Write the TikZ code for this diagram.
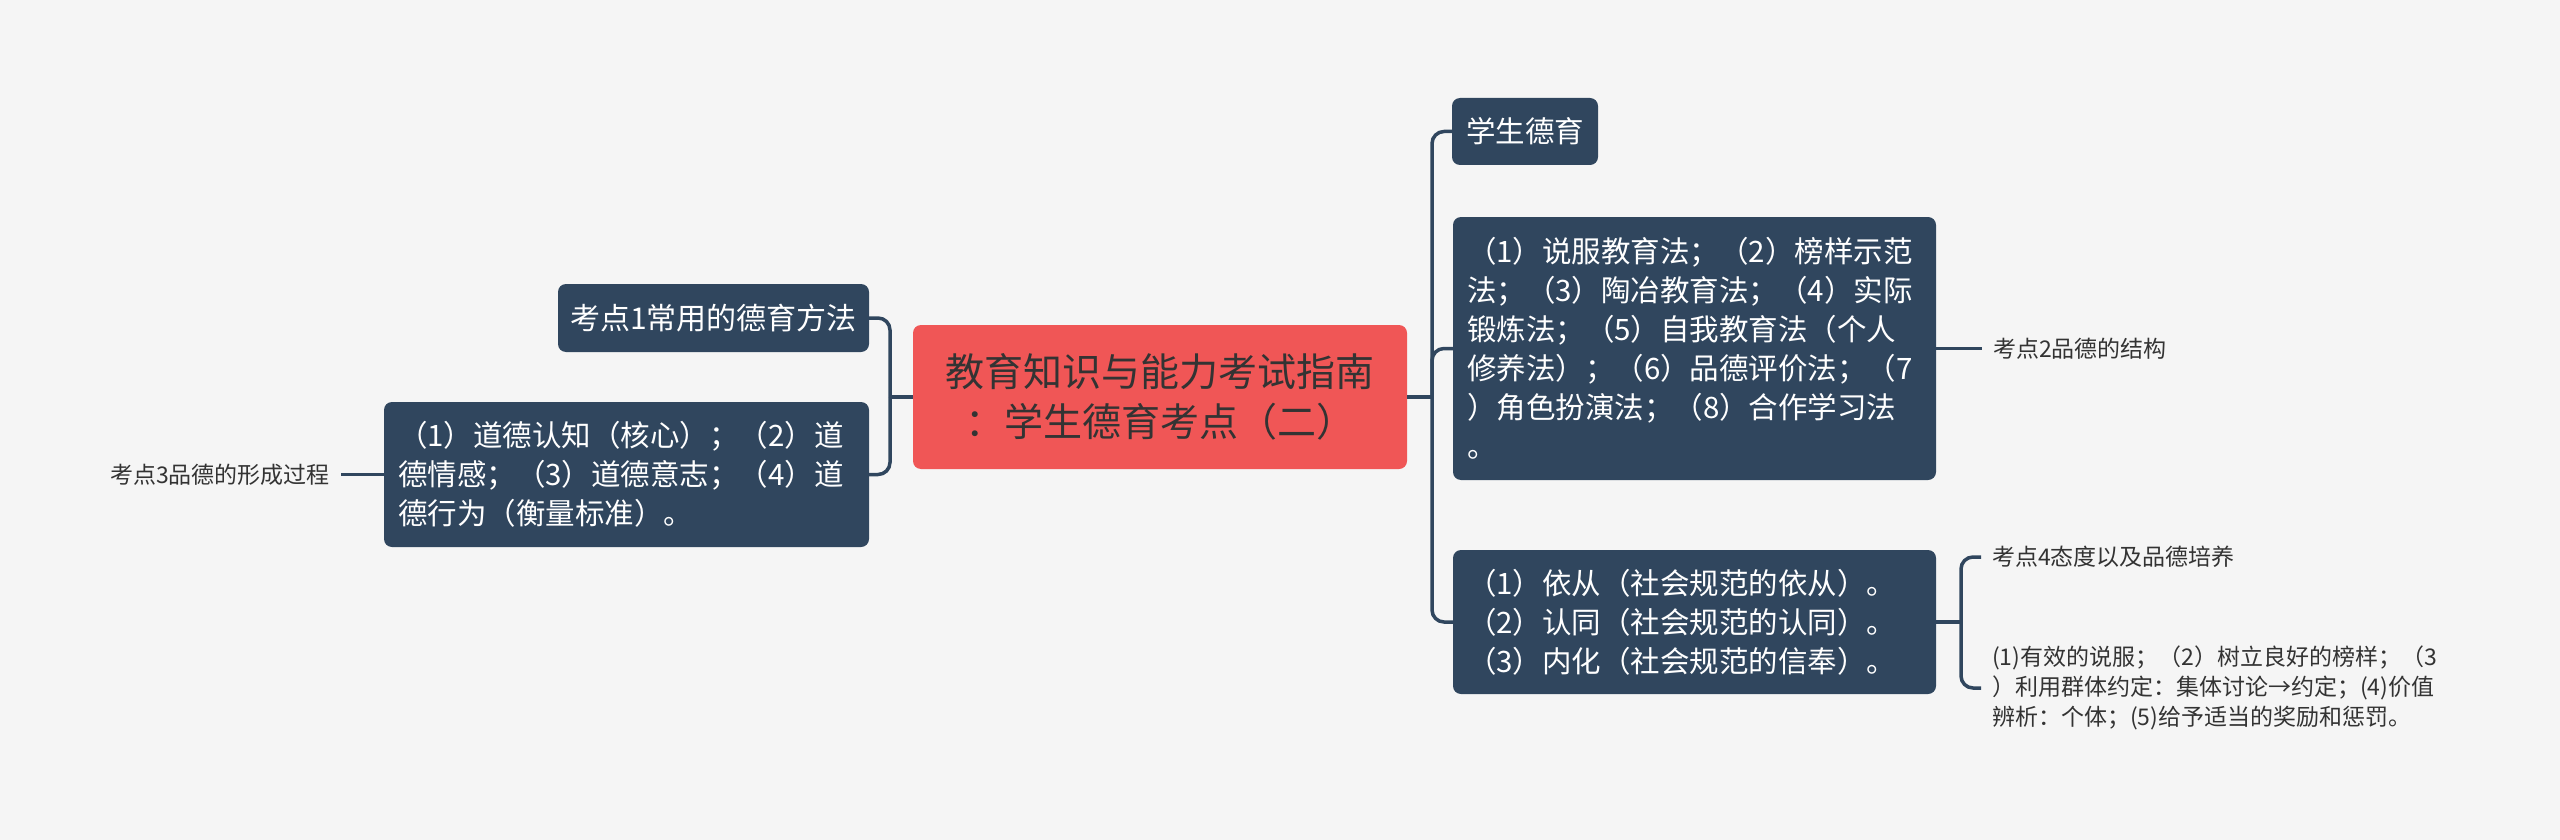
\documentclass[tikz,border=0pt]{standalone}
\usepackage{fontspec}
\newfontfamily\cjk{Noto Sans CJK SC}
\definecolor{nodebg}{HTML}{30465E}
\definecolor{mainred}{HTML}{F05656}
\definecolor{bgc}{HTML}{F5F5F5}
\definecolor{txt}{HTML}{333333}
\begin{document}
\begin{tikzpicture}[x=1pt,y=-1pt,
 box/.style={fill=nodebg, rounded corners=8pt, text=white, inner xsep=14pt, inner ysep=0pt, align=left},
 midfont/.style={font=\cjk\fontsize{29.5}{39}\selectfont},
 conn/.style={draw=nodebg, line width=3.5pt, rounded corners=12pt},
 lbl/.style={text=txt, inner xsep=11pt, inner ysep=0pt, font=\cjk\fontsize{23}{30}\selectfont, align=left}]
\fill[bgc] (0,0) rectangle (2560,840);
\useasboundingbox (0,0) rectangle (2560,840);

% central
\node[fill=mainred, rounded corners=8pt, text=txt, minimum width=494pt, minimum height=144pt,
      align=center, inner sep=0pt, font=\cjk\fontsize{39}{50}\selectfont] (c) at (1160,397)
      {教育知识与能力考试指南\\：学生德育考点（二）};

% right side
\node[box, midfont, minimum width=144pt, minimum height=67pt] (r1) at (1525,131.5) {学生德育};
\node[box, midfont, minimum width=483pt, minimum height=263pt, text width=455pt] (r2) at (1694.5,348.5)
  {（1）说服教育法；（2）榜样示范\\法；（3）陶冶教育法；（4）实际\\锻炼法；（5）自我教育法（个人\\修养法）；（6）品德评价法；（7\\）角色扮演法；（8）合作学习法\\。};
\node[box, midfont, minimum width=483pt, minimum height=144pt, text width=455pt] (r3) at (1694.5,622)
  {（1）依从（社会规范的依从）。\\（2）认同（社会规范的认同）。\\（3）内化（社会规范的信奉）。};

% left side
\node[box, font=\cjk\fontsize{30}{39}\selectfont, inner xsep=10pt, minimum width=311pt, minimum height=68pt] (l1) at (713.5,318) {考点1常用的德育方法};
\node[box, midfont, minimum width=485pt, minimum height=145pt, text width=457pt] (l2) at (626.5,474.5)
  {（1）道德认知（核心）；（2）道\\德情感；（3）道德意志；（4）道\\德行为（衡量标准）。};

% labels
\node[lbl, anchor=west] (k2) at (1982,348.5) {考点2品德的结构};
\node[lbl, anchor=west] (k4) at (1981,557) {考点4态度以及品德培养};
\node[lbl, anchor=west] (k5) at (1981,688) {(1)有效的说服；（2）树立良好的榜样；（3\\）利用群体约定：集体讨论→约定；(4)价值\\辨析：个体；(5)给予适当的奖励和惩罚。};
\node[lbl, anchor=east] (k3) at (341,474.5) {考点3品德的形成过程};

% connectors
\coordinate (rj) at (1432,397);
\coordinate (lj) at (890,397);
\coordinate (bj) at (1961,622);
\draw[conn] (c.east) -- (rj);
\draw[conn] (rj) |- (r1.west);
\draw[conn] (rj) |- (r2.west);
\draw[conn] (rj) |- (r3.west);
\draw[conn] (c.west) -- (lj);
\draw[conn] (lj) |- (l1.east);
\draw[conn] (lj) |- (l2.east);
\draw[conn] (r2.east) -- (k2.west);
\draw[conn] (r3.east) -- (bj);
\draw[conn] (bj) |- (k4.west);
\draw[conn] (bj) |- (k5.west);
\draw[conn] (k3.east) -- (l2.west);
\end{tikzpicture}
\end{document}
